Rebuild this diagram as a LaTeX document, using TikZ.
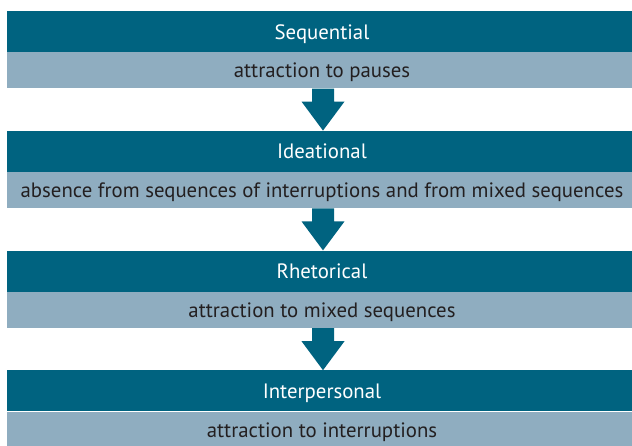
\documentclass[tikz,border=0pt]{standalone}
\usepackage{fontspec}
\setmainfont{PT Sans}
\usetikzlibrary{positioning}
\usetikzlibrary{calc}

\definecolor{headteal}{RGB}{0,99,128}
\definecolor{subgrey}{RGB}{143,173,192}
\definecolor{subtext}{RGB}{35,31,32}

\begin{document}
\begin{tikzpicture}[x=1pt, y=1pt,
  node distance=0pt,
  every node/.style={inner sep=0pt, font=\fontsize{20.8}{24}\selectfont,
    text height=17pt, text depth=2pt},
  header/.style={rectangle, minimum width=630pt, minimum height=41pt, fill=headteal, text=white},
  subbar/.style={rectangle, minimum width=630pt, minimum height=36pt, fill=subgrey, text=subtext},
  flow/.style={fill=headteal}]

  \useasboundingbox (0,0) rectangle (632,-445);

  \node[header]                        (h1) at (322,-31.5) {Sequential};
  \node[subbar, below=of h1]           (s1) {attraction to pauses};
  \node[header, below=42pt of s1]      (h2) {Ideational};
  \node[subbar, below=of h2]           (s2) {absence from sequences of interruptions and from mixed sequences};
  \node[header, below=42pt of s2]      (h3) {Rhetorical};
  \node[subbar, below=of h3]           (s3) {attraction to mixed sequences};
  \node[header, below=42pt of s3]      (h4) {Interpersonal};
  \node[subbar, below=of h4]           (s4) {attraction to interruptions};

  % block arrows between the stages
  \foreach \from/\to in {s1/h2, s2/h3, s3/h4}
    \fill[flow] ($(\from.south)+(-10,0)$) -- ++(0,-13) -- ++(-10.5,0)
      -- ($(\to.north)+(1,0)$) -- ($(\from.south)+(22.5,-13)$) -- ++(-10.5,0)
      -- ($(\from.south)+(12,0)$) -- cycle;
\end{tikzpicture}
\end{document}
